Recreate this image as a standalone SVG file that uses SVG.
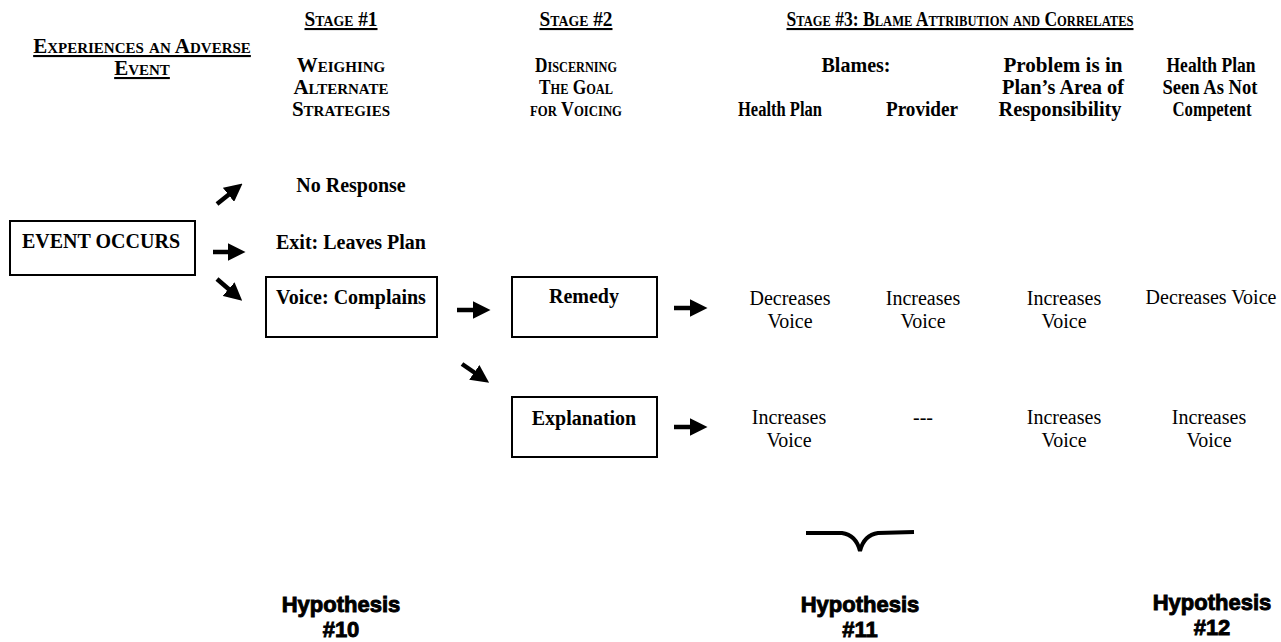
<svg xmlns="http://www.w3.org/2000/svg" width="1281" height="642" viewBox="0 0 1281 642">
<style>
text{font-family:"Liberation Serif","Times New Roman",serif;fill:#000;text-anchor:middle}
.sc{font-weight:bold;font-size:21px;font-variant:small-caps}
.u{text-decoration:underline}
.b{font-weight:bold;font-size:20px}
.r{font-size:20px}
.h{font-family:"Liberation Sans",Arial,sans-serif;font-weight:bold;font-size:22px;stroke:#000;stroke-width:0.9}
.box{fill:#fff;stroke:#000;stroke-width:2}
.arr{stroke:#000;stroke-width:4.5;fill:none;marker-end:url(#ah)}
</style>
<defs>
<marker id="ah" markerWidth="4" markerHeight="4" refX="1" refY="2" orient="auto" markerUnits="strokeWidth" viewBox="0 0 4 4">
<path d="M0,0 L4,2 L0,4 Z" fill="#000"/>
</marker>
</defs>
<g id="headers">
<text class="sc u" x="142" y="53">Experiences an Adverse</text>
<text class="sc u" x="142" y="75">Event</text>
<text class="sc u" x="341" y="26" textLength="73" lengthAdjust="spacingAndGlyphs">Stage #1</text>
<text class="sc" x="341" y="72">Weighing</text>
<text class="sc" x="341" y="94">Alternate</text>
<text class="sc" x="341" y="116">Strategies</text>
<text class="sc u" x="576" y="26" textLength="73" lengthAdjust="spacingAndGlyphs">Stage #2</text>
<text class="sc" x="576" y="72" textLength="82" lengthAdjust="spacingAndGlyphs">Discerning</text>
<text class="sc" x="576" y="94" textLength="74" lengthAdjust="spacingAndGlyphs">The  Goal</text>
<text class="sc" x="576" y="116" textLength="92" lengthAdjust="spacingAndGlyphs">for Voicing</text>
<text class="sc u" x="960" y="26" textLength="347" lengthAdjust="spacingAndGlyphs">Stage #3: Blame Attribution and Correlates</text>
<text class="b" x="856" y="72" textLength="69" lengthAdjust="spacingAndGlyphs">Blames:</text>
<text class="b" x="780" y="116" textLength="84" lengthAdjust="spacingAndGlyphs">Health Plan</text>
<text class="b" x="922" y="116" textLength="72" lengthAdjust="spacingAndGlyphs">Provider</text>
<text class="b" x="1063" y="72" textLength="119" lengthAdjust="spacingAndGlyphs">Problem is in</text>
<text class="b" x="1063" y="94" textLength="122" lengthAdjust="spacingAndGlyphs">Plan’s Area of</text>
<text class="b" x="1060" y="116" textLength="123" lengthAdjust="spacingAndGlyphs">Responsibility</text>
<text class="b" x="1211" y="72" textLength="89" lengthAdjust="spacingAndGlyphs">Health Plan</text>
<text class="b" x="1210" y="94" textLength="95" lengthAdjust="spacingAndGlyphs">Seen As Not</text>
<text class="b" x="1212" y="116" textLength="79" lengthAdjust="spacingAndGlyphs">Competent</text>
</g>
<g id="event-occurs">
<rect class="box" x="10" y="221" width="185" height="54"/>
<text class="b" x="101" y="248">EVENT OCCURS</text>
</g>
<g id="no-response"><text class="b" x="351" y="192">No Response</text></g>
<g id="exit"><text class="b" x="351" y="249">Exit: Leaves Plan</text></g>
<g id="voice-complains">
<rect class="box" x="266" y="277" width="171" height="60"/>
<text class="b" x="351" y="304">Voice: Complains</text>
</g>
<g id="remedy">
<rect class="box" x="512" y="277" width="145" height="60"/>
<text class="b" x="584" y="303">Remedy</text>
</g>
<g id="explanation">
<rect class="box" x="512" y="397" width="145" height="60"/>
<text class="b" x="584" y="425">Explanation</text>
</g>
<g id="values">
<text class="r" x="790" y="305">Decreases</text>
<text class="r" x="790" y="328">Voice</text>
<text class="r" x="923" y="305">Increases</text>
<text class="r" x="923" y="328">Voice</text>
<text class="r" x="1064" y="305">Increases</text>
<text class="r" x="1064" y="328">Voice</text>
<text class="r" x="1211" y="304">Decreases Voice</text>
<text class="r" x="789" y="424">Increases</text>
<text class="r" x="789" y="447">Voice</text>
<text class="r" x="923" y="424">---</text>
<text class="r" x="1064" y="424">Increases</text>
<text class="r" x="1064" y="447">Voice</text>
<text class="r" x="1209" y="424">Increases</text>
<text class="r" x="1209" y="447">Voice</text>
</g>
<g id="connectors">
<line class="arr" x1="217" y1="204" x2="232" y2="192"/>
<line class="arr" x1="213" y1="252" x2="232" y2="252"/>
<line class="arr" x1="217" y1="279" x2="232" y2="292"/>
<line class="arr" x1="457" y1="310" x2="477" y2="310"/>
<line class="arr" x1="462" y1="364" x2="478" y2="375"/>
<line class="arr" x1="674" y1="308" x2="694" y2="308"/>
<line class="arr" x1="674" y1="427" x2="694" y2="427"/>
</g>
<g id="brace">
<path d="M806,533 L842,533 Q856,535 860,551 Q864,535 878,533 L914,532" fill="none" stroke="#000" stroke-width="4"/>
</g>
<g id="hypotheses">
<text class="h" x="341" y="612">Hypothesis</text>
<text class="h" x="341" y="637">#10</text>
<text class="h" x="860" y="612">Hypothesis</text>
<text class="h" x="860" y="637">#11</text>
<text class="h" x="1212" y="610">Hypothesis</text>
<text class="h" x="1212" y="635">#12</text>
</g>
</svg>
